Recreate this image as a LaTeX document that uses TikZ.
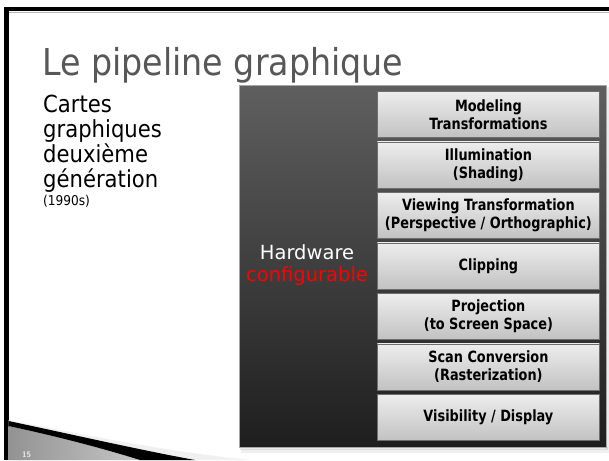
\documentclass[tikz,border=0pt]{standalone}
\usepackage{fontspec}
\setmainfont{DejaVu Sans}
\newfontfamily\slidefont[FakeStretch=0.9]{DejaVu Sans}
\newfontfamily\boxfont[FakeStretch=0.83]{DejaVu Sans}
\definecolor{titlegray}{HTML}{575757}
\definecolor{panelTop}{HTML}{5F5F5F}
\definecolor{panelBottom}{HTML}{1E1E1E}
\definecolor{stageTop}{HTML}{EDEDED}
\definecolor{stageBottom}{HTML}{C2C2C2}
\definecolor{stageEdge}{HTML}{6E6E6E}
\tikzset{
  stage/.style={draw=stageEdge, line width=0.8pt, top color=stageTop,
    bottom color=stageBottom, minimum width=222pt, minimum height=46pt,
    inner sep=0pt, anchor=north west, align=center, text=black,
    font=\boxfont\bfseries\fontsize{15.5}{18}\selectfont},
  bodytext/.style={anchor=base west, inner sep=0pt, text=black,
    font=\slidefont\fontsize{23.5}{25}\selectfont},
  hwtext/.style={anchor=base, inner sep=0pt,
    font=\fontsize{19.5}{22}\selectfont}
}
\begin{document}
\begin{tikzpicture}[x=1pt,y=-1pt]
\useasboundingbox (0,0) rectangle (609,460);
\fill[white] (0,0) rectangle (609,460);

% slide frame (top and left)
\fill[black] (3.5,7) rectangle (609,11.5);
\fill[black] (3.5,7) rectangle (8.5,460);
\draw[gray!55, line width=0.6pt] (8.5,12.2) -- (609,12.2);

% corner swoosh with slide number
\fill[gray!12] (8.5,420) .. controls (90,436) and (170,452) .. (250,460) -- (8.5,460) -- cycle;
\shade[left color=gray!85, right color=gray!45] (8.5,426) .. controls (60,437) and (105,449) .. (140,460) -- (8.5,460) -- cycle;
\fill[black] (8.5,421) .. controls (70,434) and (140,450) .. (195,460) -- (140,460) .. controls (105,449) and (60,437) .. (8.5,426) -- cycle;
\node[anchor=base west, inner sep=0pt, text=white!85!gray, font=\sffamily\bfseries\fontsize{8}{9}\selectfont] (num) at (22,457) {15};

% title
\node[anchor=base west, inner sep=0pt, text=titlegray,
  font=\slidefont\fontsize{37}{40}\selectfont] (title) at (42,75) {Le pipeline graphique};

% left column text
\node[bodytext] (l1) at (43,112) {Cartes};
\node[bodytext] (l2) at (43,137) {graphiques};
\node[bodytext] (l3) at (43,162) {deuxième};
\node[bodytext] (l4) at (43,187) {génération};
\node[bodytext, font=\slidefont\fontsize{13.5}{15}\selectfont] (l5) at (43,205) {(1990s)};

% panel shadow and panel
\fill[black, opacity=0.06] (241,449) rectangle (609,453);
\fill[black, opacity=0.08] (240,447) rectangle (608,450);
\fill[black, opacity=0.08] (606,87) rectangle (608.5,449);
\path[draw=gray!70, line width=0.6pt, top color=panelTop, bottom color=panelBottom]
  (239,85) rectangle (606,447);

\node[hwtext, text=white] (hw) at (307,259) {Hardware};
\node[hwtext, text=red] (cfg) at (307,281) {configurable};

% pipeline stages
\node[stage] (s1) at (377,91)    {Modeling\\Transformations};
\node[stage] (s2) at (377,141.5) {Illumination\\(Shading)};
\node[stage] (s3) at (377,192)   {Viewing Transformation\\(Perspective / Orthographic)};
\node[stage] (s4) at (377,242.5) {Clipping};
\node[stage] (s5) at (377,293)   {Projection\\(to Screen Space)};
\node[stage] (s6) at (377,343.5) {Scan Conversion\\(Rasterization)};
\node[stage] (s7) at (377,394)   {Visibility / Display};
\end{tikzpicture}
\end{document}
